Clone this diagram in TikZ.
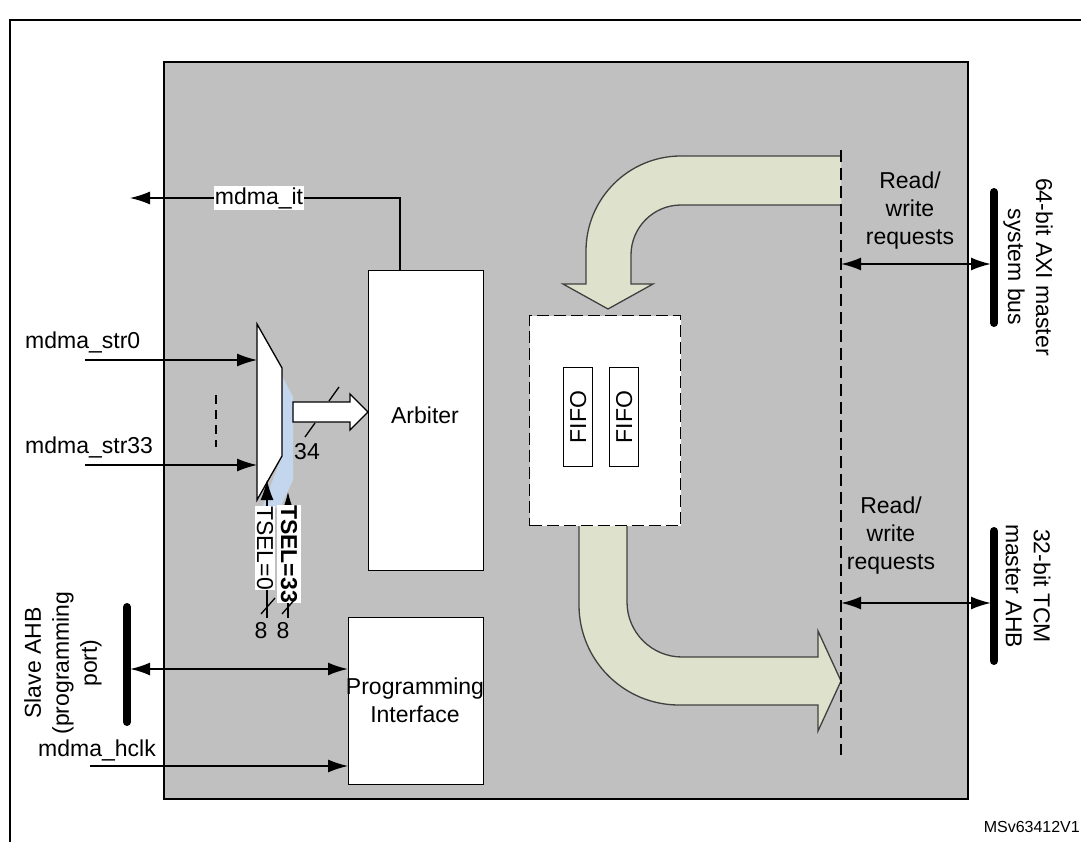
\documentclass[tikz,border=0pt]{standalone}
\usepackage{fontspec}
\setmainfont{Liberation Sans}
\usetikzlibrary{arrows.meta}
\definecolor{gbox}{HTML}{C0C0C0}
\definecolor{olive}{HTML}{DEE1CC}
\definecolor{mblue}{HTML}{C3D6EE}
\begin{document}
\begin{tikzpicture}[x=1pt,y=-1pt,
  txt/.style={font=\fontsize{23}{28}\selectfont, inner sep=1pt, align=center},
  wbox/.style={draw, fill=white, line width=1.3pt},
  sig/.style={line width=1.3pt, -{Latex[length=20pt,width=13pt]}},
  bidir/.style={line width=2pt, {Latex[length=20pt,width=13pt]}-{Latex[length=20pt,width=13pt]}},
  bus/.style={line width=8pt, line cap=round},
  bigarrow/.style={draw=black!75, fill=olive, line width=1.3pt}]
\useasboundingbox (0,0) rectangle (1081,842);
\draw[line width=2.2pt] (10,842) -- (10,20) -- (1081,20);
\node[wbox, fill=gbox, line width=2pt, minimum width=804pt, minimum height=737pt, anchor=north west] (main) at (163,61) {};
% big arrows
\draw[bigarrow] (841,156) [rounded corners=95pt] -- (586,156) [sharp corners] -- (586,284) -- (563,284) -- (608,309) -- (653,284) -- (631,284) [rounded corners=50pt] -- (631,205) [sharp corners] -- (841,205);
\draw[bigarrow] (579,525) [rounded corners=100pt] -- (579,705) [sharp corners] -- (818,705) -- (818,731) -- (841,681) -- (818,631) -- (818,657) [rounded corners=55pt] -- (627,657) [sharp corners] -- (627,525);
% dashed divider
\coordinate (dtop) at (841,150);
\coordinate (dbot) at (841,755);
\draw[dashed, dash pattern=on 12pt off 6pt, line width=1.3pt] (dtop) -- (dbot);
% FIFO block
\node[wbox, dashed, dash pattern=on 12pt off 5pt, minimum width=151pt, minimum height=210pt, anchor=north west] (fifoblk) at (529,315) {};
\node[wbox, minimum width=29pt, minimum height=99pt, anchor=north west] (f1) at (563,367) {};
\node[txt, rotate=90] at (f1.center) {FIFO};
\node[wbox, minimum width=29pt, minimum height=99pt, anchor=north west] (f2) at (609,367) {};
\node[txt, rotate=90] at (f2.center) {FIFO};
% Arbiter & programming interface
\node[wbox, minimum width=115pt, minimum height=300pt, anchor=north west] (arb) at (368,270) {};
\node[txt] at (425,415) {Arbiter};
\node[wbox, minimum width=135pt, minimum height=167pt, anchor=north west] (pi) at (348,617) {};
\node[txt] at (415,700) {Programming\\Interface};
% mdma_it
\coordinate (itend) at (130,198);
\draw[sig] (400,270) -- (400,198) -- (itend);
\node[txt, fill=white] (itlbl) at (259,198) {mdma\_it};
% mux
\fill[mblue] (282,376) -- (293,397) -- (293,480) -- (280,508) -- (262,508) -- (282,456) -- cycle;
\draw[wbox] (257,324) -- (282,368) -- (282,456) -- (257,500) -- cycle;
\coordinate (in0) at (85,360);
\coordinate (in33) at (85,465);
\draw[sig] (in0) -- (257,360);
\draw[sig] (in33) -- (257,465);
\node[txt, anchor=south west] (l0) at (24,354) {mdma\_str0};
\node[txt, anchor=south west] (l33) at (24,459) {mdma\_str33};
\draw[dashed, dash pattern=on 9pt off 6pt, line width=1.3pt] (216,395) -- (216,447);
% output arrow
\draw[wbox] (293,402) -- (350,402) -- (350,394) -- (368,412) -- (350,430) -- (350,422) -- (293,422) -- cycle;
\draw[line width=1.3pt] (329,401) -- (339,387);
\draw[line width=1.3pt] (305,437) -- (315,423);
\node[txt] at (307,452) {34};
% TSEL
\draw[sig] (267,618) -- (267,480);
\draw[sig] (288,618) -- (288,492);
\node[txt, fill=white, rotate=-90, minimum height=20pt, inner sep=0pt] (ts0) at (265,548) {TSEL=0};
\node[txt, fill=white, rotate=-90, minimum height=24pt, inner sep=0pt, font=\fontsize{23}{28}\selectfont\bfseries] (ts33) at (289,554) {TSEL=33};
\draw[line width=1.3pt] (261,614) -- (275,598);
\draw[line width=1.3pt] (282,614) -- (296,598);
\node[txt] at (261,631) {8};
\node[txt] at (283,631) {8};
% slave AHB
\coordinate (sbtop) at (127,607);
\coordinate (sbbot) at (127,722);
\draw[bus] (sbtop) -- (sbbot);
\coordinate (sbmid) at (130,669);
\draw[bidir] (sbmid) -- (pi.west |- sbmid);
\node[txt, rotate=90] at (63,663) {Slave AHB\\(programming\\port)};
\node[txt] at (97,750) {mdma\_hclk};
\coordinate (hclk) at (90,766);
\draw[sig] (hclk) -- (pi.west |- hclk);
% right side buses
\coordinate (axitop) at (994,192);
\coordinate (axibot) at (994,323);
\draw[bus] (axitop) -- (axibot);
\coordinate (tcmtop) at (994,531);
\coordinate (tcmbot) at (994,661);
\draw[bus] (tcmtop) -- (tcmbot);
\draw[bidir] (841,264) -- (991,264);
\draw[bidir] (841,603) -- (991,603);
\node[txt] at (910,211) {Read/\\write\\requests};
\node[txt] at (891,536) {Read/\\write\\requests};
\node[txt, rotate=-90] at (1028,267) {64-bit AXI  master\\system bus};
\node[txt, rotate=-90] at (1028,586) {32-bit TCM\\master AHB};
\node[font=\fontsize{16}{19}\selectfont, anchor=east, inner sep=0pt] (ms) at (1080,827) {MSv63412V1};
\end{tikzpicture}
\end{document}
